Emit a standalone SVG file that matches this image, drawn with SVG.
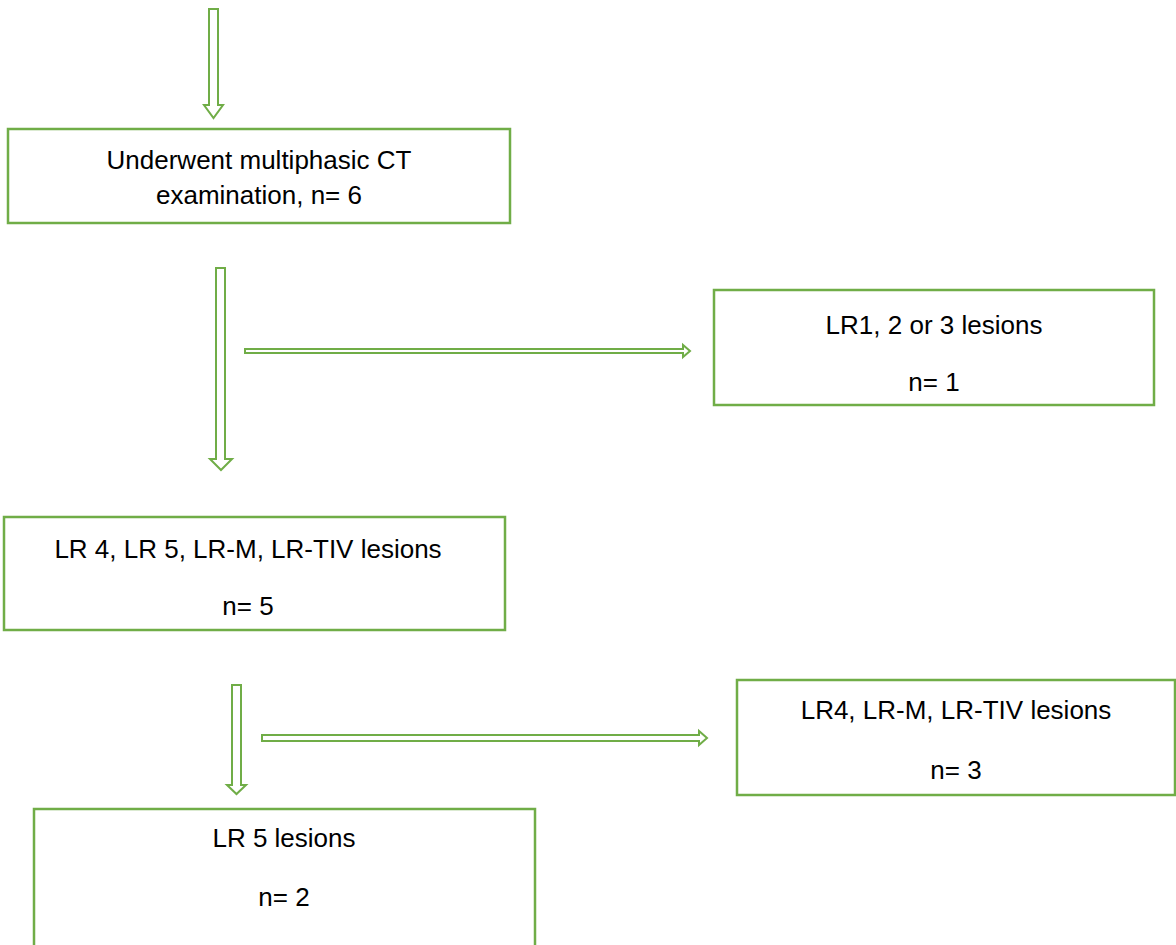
<svg xmlns="http://www.w3.org/2000/svg" width="1176" height="945" viewBox="0 0 1176 945">
<style>
.box{fill:#fff;stroke:#70AD47;stroke-width:2.5}
.arr{fill:#fff;stroke:#70AD47;stroke-width:2;stroke-linejoin:miter}
text{font-family:"Liberation Sans",Arial,sans-serif;font-size:26px;fill:#000;text-anchor:middle}
</style>
<rect width="1176" height="945" fill="#fff"/>
<g id="connectors">
<polygon class="arr" points="209,9 218,9 218,105 223,105 213.5,118 204,105 209,105"/>
<polygon class="arr" points="216,268 225,268 225,459 232,459 221,470 210,459 216,459"/>
<polygon class="arr" points="245,349 683,349 683,345 690,351 683,357 683,353 245,353"/>
<polygon class="arr" points="232,685 241,685 241,785 246,785 236.5,794 227,785 232,785"/>
<polygon class="arr" points="262,735 699,735 699,731 707,738 699,745 699,741 262,741"/>
</g>
<g id="n1"><rect class="box" x="8" y="129" width="502" height="94"/>
<text x="259" y="169">Underwent multiphasic CT</text>
<text x="259" y="204">examination, n= 6</text></g>
<g id="n2"><rect class="box" x="714" y="290" width="440" height="115"/>
<text x="934" y="334">LR1, 2 or 3 lesions</text>
<text x="934" y="391">n= 1</text></g>
<g id="n3"><rect class="box" x="4" y="517" width="501" height="113"/>
<text x="248" y="558">LR 4, LR 5, LR-M, LR-TIV lesions</text>
<text x="248" y="615">n= 5</text></g>
<g id="n4"><rect class="box" x="737" y="680" width="438" height="115"/>
<text x="956" y="719">LR4, LR-M, LR-TIV lesions</text>
<text x="956" y="779">n= 3</text></g>
<g id="n5"><rect class="box" x="34" y="809" width="501" height="145"/>
<text x="284" y="847">LR 5 lesions</text>
<text x="284" y="906">n= 2</text></g>
</svg>
